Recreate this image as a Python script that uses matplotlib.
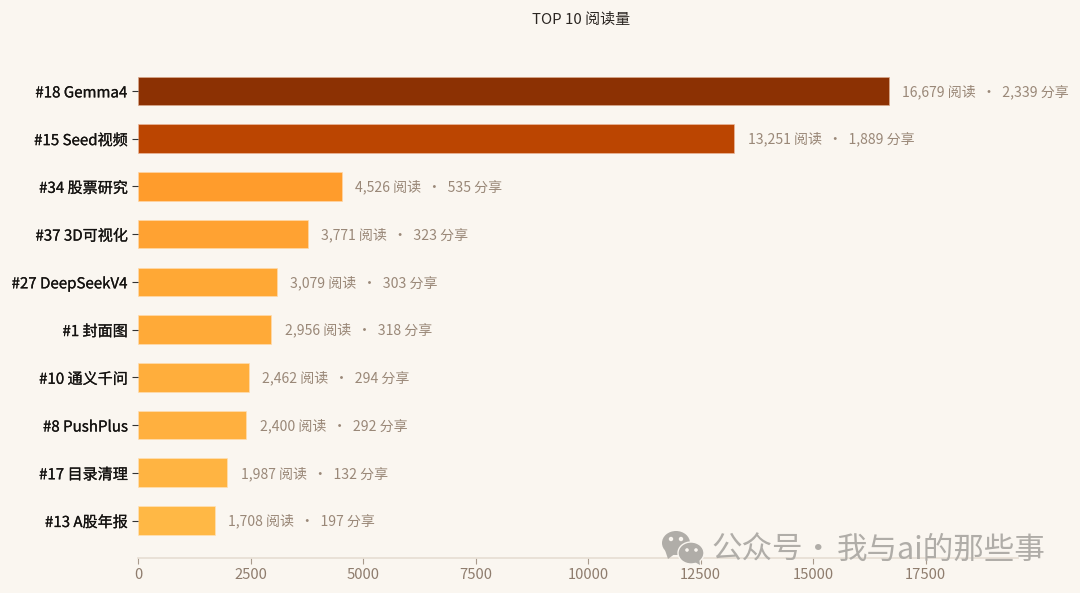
import matplotlib
matplotlib.use('Agg')
import matplotlib.pyplot as plt
import matplotlib.patheffects as pe
from matplotlib.patches import Ellipse, Polygon

plt.rcParams['font.family'] = ['Noto Sans CJK SC', 'DejaVu Sans']

names = ['#18 Gemma4', '#15 Seed视频', '#34 股票研究', '#37 3D可视化', '#27 DeepSeekV4',
         '#1 封面图', '#10 通义千问', '#8 PushPlus', '#17 目录清理', '#13 A股年报']
reads = [16679, 13251, 4526, 3771, 3079, 2956, 2462, 2400, 1987, 1708]
shares = [2339, 1889, 535, 323, 303, 318, 294, 292, 132, 197]
bar_colors = ['#8c3103', '#bb4501', '#ff9c2c', '#ffa232', '#ffa835',
              '#ffaa38', '#ffae3c', '#ffb03f', '#ffb442', '#ffb845']
edge_colors = ['#d9a98c', '#eab89c', '#ffd6a6', '#ffd8a8', '#ffdaab',
               '#ffdbad', '#ffddb0', '#ffdeb2', '#ffe0b4', '#ffe2b8']
xticks = [0, 2500, 5000, 7500, 10000, 12500, 15000, 17500]

bg = '#faf6f0'
W, H = 1080, 593
fig = plt.figure(figsize=(W / 100, H / 100), dpi=100, facecolor=bg)
# axes box in pixels: left 138, right 1018, top 67, bottom 558
ax = fig.add_axes([138 / W, 1 - 558 / H, (1018 - 138) / W, (558 - 67) / H], facecolor=bg)

pos = list(range(len(names)))
ax.barh(pos, reads, height=0.6, color=bar_colors, edgecolor=edge_colors, linewidth=0.5)
ax.set_xlim(0, (1018 - 138) / 0.045)
ax.set_ylim(9.5 + 13.6 / 47.7, -0.5)

ax.set_yticks(pos)
ax.set_yticklabels(names, fontsize=10.85, color='#141210', fontweight='medium')
for lab in ax.get_yticklabels():
    lab.set_path_effects([pe.withStroke(linewidth=0.15, foreground='#141210')])
ax.set_xticks(xticks)
ax.set_xticklabels([str(t) for t in xticks], fontsize=10.6, color='#8f7d6e')
ax.tick_params(axis='y', length=4, width=0.8, color='#333333', pad=3.5)
ax.tick_params(axis='x', length=4, width=0.8, color='#a89a8c', pad=3)

for s in ['top', 'right', 'left']:
    ax.spines[s].set_visible(False)
ax.spines['bottom'].set_color('#e6ddd2')
ax.spines['bottom'].set_linewidth(1.2)

for i in pos:
    ax.annotate(f'{reads[i]:,} 阅读  ·  {shares[i]:,} 分享', (reads[i], i), xytext=(9.8, -0.5),
                textcoords='offset points', va='center', ha='left', fontsize=10.1, color='#9a8878')

fig.text(581 / W, 1 - 19.5 / H, 'TOP 10 阅读量', ha='center', va='center', fontsize=10.8, color='#2b2622')

# watermark
wm = '#b0ada8'
over = fig.add_axes([0, 0, 1, 1], facecolor='none')
over.set_xlim(0, W)
over.set_ylim(H, 0)
over.axis('off')
over.text(711, 550, '公众号', ha='left', va='center', fontsize=22, color=wm)
over.text(818, 550, '·', ha='center', va='center', fontsize=22, color=wm)
over.text(837, 550, '我与ai的那些事', ha='left', va='center', fontsize=22, color=wm)
over.add_patch(Ellipse((676, 543), 28, 24, color=wm, lw=0))
over.add_patch(Polygon([(665, 550), (668, 559), (676, 553)], color=wm, lw=0))
over.add_patch(Ellipse((691, 553), 26, 22, color=wm, ec=bg, lw=1))
over.add_patch(Polygon([(693, 561), (700, 565), (699, 558)], color=wm, lw=0))
for x, y, r in [(671, 539, 2.2), (681, 539, 2.2), (687, 550, 1.8), (696, 550, 1.8)]:
    over.add_patch(Ellipse((x, y), r * 2, r * 2, color=bg, lw=0))

fig.savefig('out.png', dpi=100, facecolor=bg)
